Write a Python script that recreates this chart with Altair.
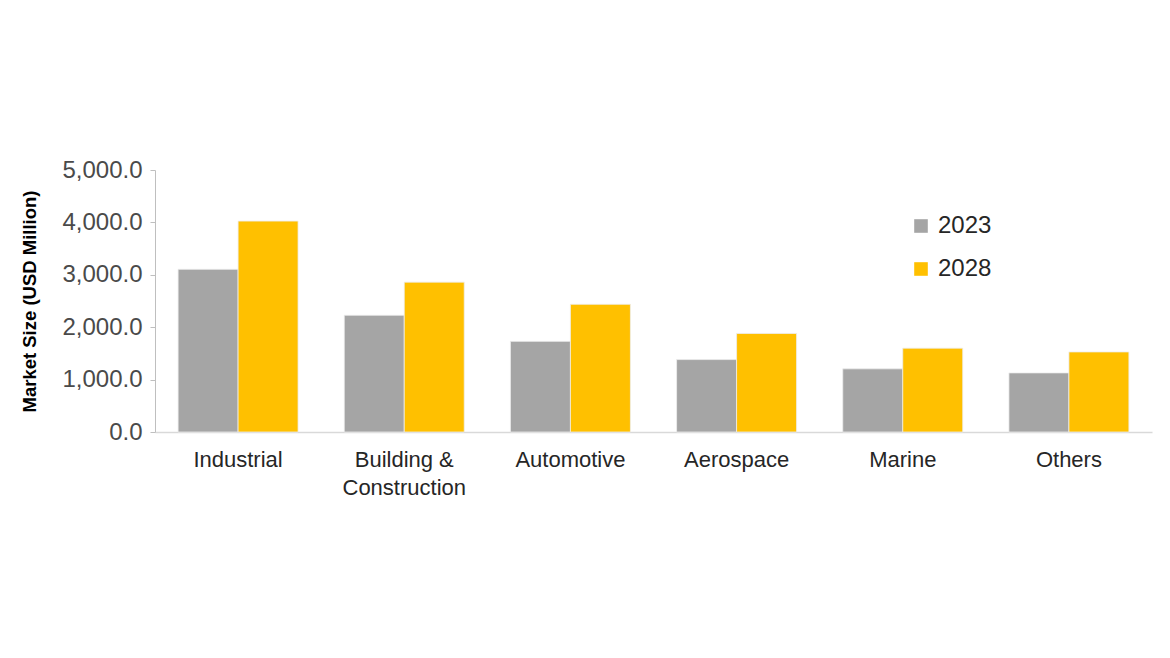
import altair as alt
import pandas as pd

categories = ["Industrial", "Building & Construction", "Automotive", "Aerospace", "Marine", "Others"]
years = ["2023", "2028"]
values_2023 = [3105, 2228, 1730, 1382, 1205, 1128]
values_2028 = [4025, 2860, 2437, 1880, 1600, 1528]

rows = []
for c, a, b in zip(categories, values_2023, values_2028):
    rows.append({"category": c, "year": "2023", "value": a})
    rows.append({"category": c, "year": "2028", "value": b})
df = pd.DataFrame(rows)

FONT = "Liberation Sans"

chart = alt.Chart(df).mark_bar(stroke="#EDEDED", strokeWidth=0.8).encode(
    x=alt.X("category:N", sort=categories,
            scale=alt.Scale(paddingInner=0.278, paddingOuter=0.139),
            axis=alt.Axis(title=None, labelAngle=0, ticks=False, labelPadding=17,
                          labelFontSize=22, labelFont=FONT, labelColor="#262626",
                          domainColor="#D9D9D9", domainWidth=1.5,
                          labelExpr="datum.label == 'Building & Construction' ? ['Building &', 'Construction'] : datum.label",
                          labelLineHeight=28)),
    xOffset=alt.XOffset("year:N", sort=years, scale=alt.Scale(paddingInner=0, paddingOuter=0)),
    y=alt.Y("value:Q", scale=alt.Scale(domain=[0, 5000], nice=False),
            axis=alt.Axis(title="Market Size (USD Million)", values=[0, 1000, 2000, 3000, 4000, 5000],
                          format=",.1f", grid=False, tickSize=5, tickColor="#BFBFBF",
                          domainColor="#BFBFBF", labelFontSize=24, labelFont=FONT,
                          labelColor="#4A4A4A", labelPadding=8,
                          titleFont=FONT, titleFontSize=18.5, titleFontWeight="bold",
                          titleColor="#000000", titlePadding=22)),
    color=alt.Color("year:N", sort=years,
                    scale=alt.Scale(domain=years, range=["#A5A5A5", "#FFC000"]),
                    legend=alt.Legend(title=None, orient="none", legendX=754, legendY=44,
                                      symbolType="square", symbolSize=185, symbolStrokeWidth=0,
                                      labelFontSize=24, labelFont=FONT, labelColor="#262626",
                                      rowPadding=19, labelOffset=5)),
).properties(
    width=997, height=262,
    autosize=alt.AutoSizeParams(type="none"),
    padding={"left": 147, "top": 162, "right": 10, "bottom": 180},
    background="white",
).configure_view(stroke=None, strokeWidth=0)

chart.save("out.html", embed_options={"renderer": "svg", "actions": False})
